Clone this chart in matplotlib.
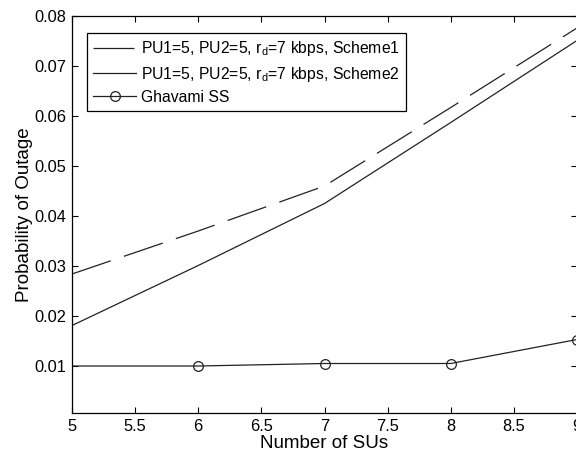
import numpy as np
from matplotlib import pyplot as plt

plt.rcParams['font.family'] = ['Liberation Sans', 'DejaVu Sans']
plt.rcParams['lines.scale_dashes'] = False

# number of SUs
sus = [5, 6, 7, 8, 9]
scheme1 = [0.0284, 0.0370, 0.0460, 0.0617, 0.0776]
scheme2 = [0.0181, 0.0301, 0.0425, 0.0587, 0.0751]
ghavami = [0.0100, 0.0100, 0.0105, 0.0105, 0.0153]

x_ticks = [5, 5.5, 6, 6.5, 7, 7.5, 8, 8.5, 9]
x_ticklabels = ['5', '5.5', '6', '6.5', '7', '7.5', '8', '8.5', '9']
y_ticks = [0.01, 0.02, 0.03, 0.04, 0.05, 0.06, 0.07, 0.08]

lbl1 = 'PU1=5, PU2=5, r$_\\mathregular{d}$=7 kbps, Scheme1'
lbl2 = 'PU1=5, PU2=5, r$_\\mathregular{d}$=7 kbps, Scheme2'

fig = plt.figure(figsize=(5.76, 4.55), dpi=100)
ax = fig.add_axes([72/576, 42/455, 505/576, 397/455])

ax.plot(sus, scheme1, color='#222222', lw=0.9, dashes=(29.5, 10), label=lbl1)
ax.plot(sus, scheme2, color='#222222', lw=0.9, label=lbl2)
ax.plot(sus, ghavami, color='#222222', lw=0.9, marker='o', ms=7,
        mfc='none', mec='#222222', mew=0.9, markevery=[1, 2, 3, 4],
        label='Ghavami SS')

ax.set_xlim(5, 9)
ax.set_ylim(0.0006, 0.08)
ax.set_xticks(x_ticks)
ax.set_xticklabels(x_ticklabels)
ax.set_yticks(y_ticks)
ax.set_yticklabels([f'{v:.2f}' for v in y_ticks])
ax.tick_params(direction='in', top=True, right=True, length=4, width=0.8,
               labelsize=11.8, pad=4)
for s in ax.spines.values():
    s.set_linewidth(0.9)

ax.set_xlabel('Number of SUs', fontsize=13.5, labelpad=1)
ax.set_ylabel('Probability of Outage', fontsize=13.5, labelpad=1)

leg = ax.legend(loc='upper left', bbox_to_anchor=(0.0298, 0.957),
                borderaxespad=0, fontsize=11.3, handlelength=2.7,
                handletextpad=0.35, fancybox=False, framealpha=1,
                edgecolor='black', labelspacing=0.4, borderpad=0.4)
leg.get_frame().set_linewidth(0.9)

fig.savefig('out.png', dpi=100)
